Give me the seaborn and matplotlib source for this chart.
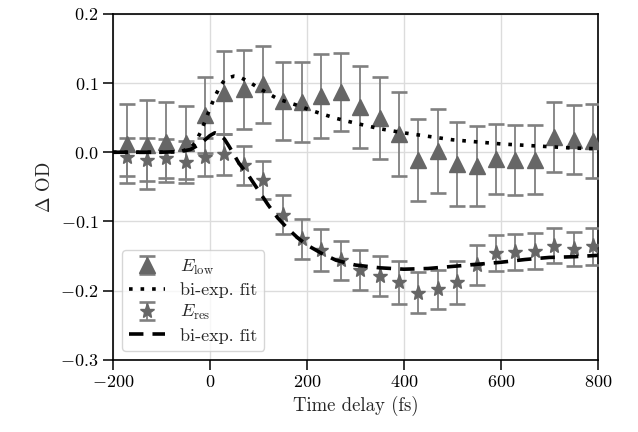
import matplotlib
matplotlib.use("Agg")
import matplotlib.pyplot as plt
import pandas as pd
import seaborn as sns
from matplotlib.lines import Line2D

# ---- data ----
time_fs = [-170, -130, -90, -50, -10, 30, 70, 110, 150, 190, 230, 270, 310,
           350, 390, 430, 470, 510, 550, 590, 630, 670, 710, 750, 790]
e_low = [0.012, 0.011, 0.015, 0.014, 0.054, 0.086, 0.091, 0.098, 0.074, 0.073,
         0.081, 0.087, 0.065, 0.049, 0.026, -0.011, 0.002, -0.017, -0.020,
         -0.010, -0.011, -0.011, 0.022, 0.018, 0.016]
e_low_err = [0.057, 0.064, 0.058, 0.053, 0.055, 0.060, 0.057, 0.056, 0.056,
             0.058, 0.061, 0.057, 0.059, 0.059, 0.061, 0.059, 0.061, 0.061,
             0.058, 0.051, 0.051, 0.050, 0.050, 0.050, 0.053]
e_res = [-0.007, -0.011, -0.009, -0.014, -0.007, -0.003, -0.019, -0.040,
         -0.090, -0.125, -0.141, -0.156, -0.170, -0.179, -0.188, -0.203,
         -0.198, -0.188, -0.163, -0.146, -0.144, -0.142, -0.135, -0.140, -0.136]
e_res_err = [0.028, 0.031, 0.028, 0.030, 0.028, 0.030, 0.028, 0.028, 0.028,
             0.029, 0.030, 0.028, 0.029, 0.029, 0.031, 0.030, 0.028, 0.031,
             0.029, 0.026, 0.026, 0.026, 0.025, 0.025, 0.027]

fit_low_t = [-200, -100, -60, -40, -30, -20, -10, 0, 10, 20, 30, 40, 50, 60,
             80, 100, 120, 140, 175, 215, 260, 300, 350, 400, 450, 500, 550,
             600, 650, 700, 750, 800]
fit_low = [0.0, 0.0, 0.001, 0.006, 0.014, 0.028, 0.045, 0.063, 0.080, 0.094,
           0.104, 0.108, 0.110, 0.109, 0.102, 0.093, 0.085, 0.077, 0.069,
           0.059, 0.049, 0.042, 0.034, 0.028, 0.023, 0.018, 0.015, 0.012,
           0.010, 0.008, 0.006, 0.005]
fit_res_t = [-200, -100, -60, -40, -20, 0, 10, 20, 30, 40, 50, 60, 80, 100,
             120, 140, 160, 180, 200, 230, 260, 300, 350, 400, 450, 500, 550,
             600, 650, 700, 750, 800]
fit_res = [0.0, 0.0, 0.001, 0.004, 0.012, 0.024, 0.028, 0.026, 0.019, 0.008,
           -0.004, -0.016, -0.034, -0.055, -0.076, -0.095, -0.110, -0.123,
           -0.134, -0.146, -0.156, -0.163, -0.167, -0.169, -0.168, -0.165,
           -0.162, -0.159, -0.155, -0.152, -0.151, -0.149]

x_ticks = [-200, 0, 200, 400, 600, 800]
y_ticks = [-0.3, -0.2, -0.1, 0.0, 0.1, 0.2]

# ---- style ----
sns.set_theme(style="ticks")
plt.rcParams.update({
    "font.family": ["cmr10"],
    "mathtext.fontset": "cm",
    "axes.formatter.use_mathtext": True,
    "axes.unicode_minus": True,
    "font.size": 13,
    "axes.labelsize": 13.5,
    "xtick.labelsize": 13,
    "ytick.labelsize": 13,
    "legend.fontsize": 13,
    "axes.edgecolor": "black",
    "axes.linewidth": 1.2,
    "xtick.major.size": 7,
    "ytick.major.size": 7,
    "xtick.major.width": 1.1,
    "ytick.major.width": 1.1,
    "xtick.color": "black",
    "ytick.color": "black",
})

fig = plt.figure(figsize=(6.38, 4.32), dpi=100)
ax = fig.add_axes([0.177, 0.167, 0.760, 0.801])

marker_col = "#666666"
err_col = "#808080"

h_low = ax.errorbar(time_fs, e_low, yerr=e_low_err, fmt="^", ms=11,
                    color=marker_col, ecolor=err_col, elinewidth=1.3,
                    capsize=6, capthick=1.9, zorder=3)
h_res = ax.errorbar(time_fs, e_res, yerr=e_res_err, fmt="*", ms=11,
                    color=marker_col, ecolor=err_col, elinewidth=1.3,
                    capsize=6, capthick=1.9, zorder=3)

df_low = pd.DataFrame({"t": fit_low_t, "y": fit_low})
df_res = pd.DataFrame({"t": fit_res_t, "y": fit_res})
sns.lineplot(data=df_low, x="t", y="y", ax=ax, color="black", lw=2.6,
             linestyle=(0, (1, 2.2)), zorder=4)
sns.lineplot(data=df_res, x="t", y="y", ax=ax, color="black", lw=2.6,
             linestyle=(0, (4, 2.5)), zorder=4)

ax.set_xlim(-200, 800)
ax.set_ylim(-0.3, 0.2)
ax.set_xticks(x_ticks)
ax.set_yticks(y_ticks)
ax.grid(True, color="#dcdcdc", lw=1.0, zorder=0)
ax.set_axisbelow(True)
ax.set_xlabel("Time delay (fs)")
ax.set_ylabel(r"$\Delta$ OD")

h_fit1 = Line2D([], [], color="black", lw=2.6, linestyle=(0, (1, 2.2)))
h_fit2 = Line2D([], [], color="black", lw=2.6, linestyle=(0, (4, 2.5)))
ax.legend([h_low, h_fit1, h_res, h_fit2],
          [r"$E_{\rm low}$", "bi-exp. fit", r"$E_{\rm res}$", "bi-exp. fit"],
          loc="lower left", frameon=True, fancybox=True, framealpha=0.8,
          edgecolor="#cccccc", handlelength=2.0, borderpad=0.4,
          labelspacing=0.3)

fig.savefig("out.png", dpi=100)
